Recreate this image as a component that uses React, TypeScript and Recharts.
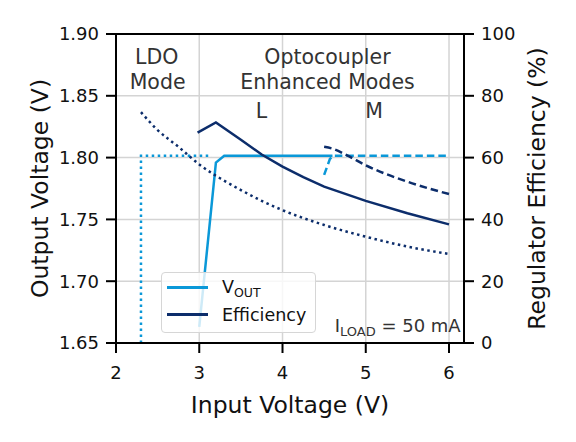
import React from 'react';
import {
  LineChart,
  Line,
  XAxis,
  YAxis,
  CartesianGrid,
  ReferenceLine,
  ReferenceDot,
} from 'recharts';

// Input voltage / output voltage / efficiency readings
const ldoVoutVin = [2.3, 2.3, 3.15];
const ldoVout = [1.65, 1.8015, 1.8015];

const lVoutVin = [3.0, 3.2, 3.3, 4.6];
const lVout = [1.663, 1.796, 1.8015, 1.8015];

const mVoutVin = [4.5, 4.57, 4.62, 6.0];
const mVout = [1.786, 1.799, 1.8015, 1.8015];

const ldoEffVin = [2.3, 2.5, 2.75, 3.0, 3.25, 3.5, 3.75, 4.0, 4.5, 5.0, 5.5, 6.0];
const ldoEff = [74.7, 68.9, 63.5, 57.8, 53.3, 49.5, 46.0, 43.0, 38.2, 34.4, 31.2, 28.8];

const lEffVin = [2.98, 3.2, 3.5, 3.75, 4.0, 4.25, 4.5, 5.0, 5.5, 6.0];
const lEff = [68.1, 71.4, 65.8, 61.0, 57.1, 53.7, 50.6, 46.0, 42.0, 38.4];

const mEffVin = [4.5, 4.6, 4.77, 5.0, 5.5, 6.0];
const mEff = [63.5, 62.9, 60.8, 57.5, 52.2, 48.2];

const xTicks = [2, 3, 4, 5, 6];
const voltTicks = [1.65, 1.7, 1.75, 1.8, 1.85, 1.9];
const effTicks = [0, 20, 40, 60, 80, 100];

const VOUT_COLOR = '#0a98d8';
const EFF_COLOR = '#0c2d6b';
const FONT = "'DejaVu Sans', sans-serif";

const toPoints = (xs: number[], ys: number[]) => xs.map((x, i) => ({ x, y: ys[i] }));

// Text annotation anchored in data coordinates
const note =
  (label: string, size = 20.5) =>
  ({ viewBox }: any) => (
    <text
      x={viewBox.x}
      y={viewBox.y}
      textAnchor="middle"
      dominantBaseline="central"
      fontFamily={FONT}
      fontSize={size}
      fill="#333"
    >
      {label}
    </text>
  );

function ChartLegend() {
  const row = (color: string, label: React.ReactNode) => (
    <div style={{ display: 'flex', alignItems: 'center', height: 27 }}>
      <div style={{ width: 41, height: 3, background: color, marginLeft: 5, marginRight: 14 }} />
      <span style={{ fontSize: 17.5, color: '#111', fontFamily: FONT, lineHeight: '20px' }}>{label}</span>
    </div>
  );
  return (
    <div
      style={{
        position: 'absolute',
        left: 161,
        top: 272,
        width: 155,
        height: 61,
        boxSizing: 'border-box',
        paddingTop: 1,
        background: 'rgba(255,255,255,0.8)',
        border: '1px solid #d6d6d6',
        borderRadius: 4,
      }}
    >
      {row(
        VOUT_COLOR,
        <>
          V<span style={{ fontSize: 12.5, position: 'relative', top: 4 }}>OUT</span>
        </>
      )}
      {row(EFF_COLOR, 'Efficiency')}
    </div>
  );
}

export default function App() {
  const axisStroke = { stroke: '#000', strokeWidth: 2 };
  const tickStyle = { fontSize: 18, fill: '#111', fontFamily: FONT };

  return (
    <div style={{ position: 'absolute', left: 0, top: 0, width: 576, height: 442, background: '#fff' }}>
      <LineChart width={576} height={442} margin={{ top: 34, right: 0, bottom: 0, left: 0 }}>
        <CartesianGrid yAxisId="v" stroke="#d4d4d4" strokeWidth={1.5} horizontalValues={voltTicks} verticalValues={xTicks} />
        <XAxis
          dataKey="x"
          type="number"
          domain={[2, 6.18]}
          ticks={xTicks}
          allowDataOverflow
          height={99}
          tickSize={10}
          tickMargin={13}
          axisLine={axisStroke}
          tickLine={axisStroke}
          tick={tickStyle}
          label={{
            content: ({ viewBox }: any) => (
              <text x={viewBox.x + viewBox.width / 2} y={viewBox.y + 62} textAnchor="middle" dominantBaseline="central" fontSize={23.5} fontFamily={FONT} fill="#111">
                Input Voltage (V)
              </text>
            ),
          }}
        />
        <YAxis
          yAxisId="v"
          domain={[1.65, 1.9]}
          ticks={voltTicks}
          tickFormatter={(v: number) => v.toFixed(2)}
          allowDataOverflow
          width={116}
          tickSize={10}
          tickMargin={7}
          axisLine={axisStroke}
          tickLine={axisStroke}
          tick={tickStyle}
          label={{
            content: ({ viewBox }: any) => {
              const cx = viewBox.x + 40;
              const cy = viewBox.y + viewBox.height / 2;
              return (
                <text x={cx} y={cy} transform={`rotate(-90 ${cx} ${cy})`} textAnchor="middle" dominantBaseline="central" fontSize={23.5} fontFamily={FONT} fill="#111">
                  Output Voltage (V)
                </text>
              );
            },
          }}
        />
        <YAxis
          yAxisId="e"
          orientation="right"
          domain={[0, 100]}
          ticks={effTicks}
          allowDataOverflow
          width={112}
          tickSize={10}
          tickMargin={7}
          axisLine={axisStroke}
          tickLine={axisStroke}
          tick={tickStyle}
          label={{
            content: ({ viewBox }: any) => {
              const cx = viewBox.x + 73;
              const cy = viewBox.y + viewBox.height / 2;
              return (
                <text x={cx} y={cy} transform={`rotate(-90 ${cx} ${cy})`} textAnchor="middle" dominantBaseline="central" fontSize={23.5} fontFamily={FONT} fill="#111">
                  Regulator Efficiency (%)
                </text>
              );
            },
          }}
        />
        <ReferenceLine yAxisId="v" y={1.9} stroke="#000" strokeWidth={2} />

        <Line data={toPoints(ldoVoutVin, ldoVout)} dataKey="y" yAxisId="v" type="linear" dot={false} stroke={VOUT_COLOR} strokeWidth={2.5} strokeDasharray="2.5 3.5" isAnimationActive={false} />
        <Line data={toPoints(lVoutVin, lVout)} dataKey="y" yAxisId="v" type="linear" dot={false} stroke={VOUT_COLOR} strokeWidth={2.5} isAnimationActive={false} />
        <Line data={toPoints(mVoutVin, mVout)} dataKey="y" yAxisId="v" type="linear" dot={false} stroke={VOUT_COLOR} strokeWidth={2.5} strokeDasharray="7.5 4" isAnimationActive={false} />
        <Line data={toPoints(ldoEffVin, ldoEff)} dataKey="y" yAxisId="e" type="monotone" dot={false} stroke={EFF_COLOR} strokeWidth={2.5} strokeDasharray="2.5 3.5" isAnimationActive={false} />
        <Line data={toPoints(lEffVin, lEff)} dataKey="y" yAxisId="e" type="linear" dot={false} stroke={EFF_COLOR} strokeWidth={2.5} isAnimationActive={false} />
        <Line data={toPoints(mEffVin, mEff)} dataKey="y" yAxisId="e" type="monotone" dot={false} stroke={EFF_COLOR} strokeWidth={2.5} strokeDasharray="7.5 4" isAnimationActive={false} />

        <ReferenceDot yAxisId="v" x={2.49} y={1.881} r={0} label={{ content: note('LDO') }} />
        <ReferenceDot yAxisId="v" x={2.5} y={1.861} r={0} label={{ content: note('Mode') }} />
        <ReferenceDot yAxisId="v" x={4.54} y={1.881} r={0} label={{ content: note('Optocoupler') }} />
        <ReferenceDot yAxisId="v" x={4.54} y={1.861} r={0} label={{ content: note('Enhanced Modes') }} />
        <ReferenceDot yAxisId="v" x={3.746} y={1.838} r={0} label={{ content: note('L') }} />
        <ReferenceDot yAxisId="v" x={5.1} y={1.838} r={0} label={{ content: note('M') }} />
        <ReferenceDot
          yAxisId="v"
          x={6.14}
          y={1.659}
          r={0}
          label={{
            content: ({ viewBox }: any) => (
              <text x={viewBox.x} y={viewBox.y} textAnchor="end" fontFamily={FONT} fontSize={18} fill="#333">
                I
                <tspan fontSize={13} dy={4}>LOAD</tspan>
                <tspan dy={-4}> = 50 mA</tspan>
              </text>
            ),
          }}
        />
      </LineChart>
      <ChartLegend />
    </div>
  );
}
